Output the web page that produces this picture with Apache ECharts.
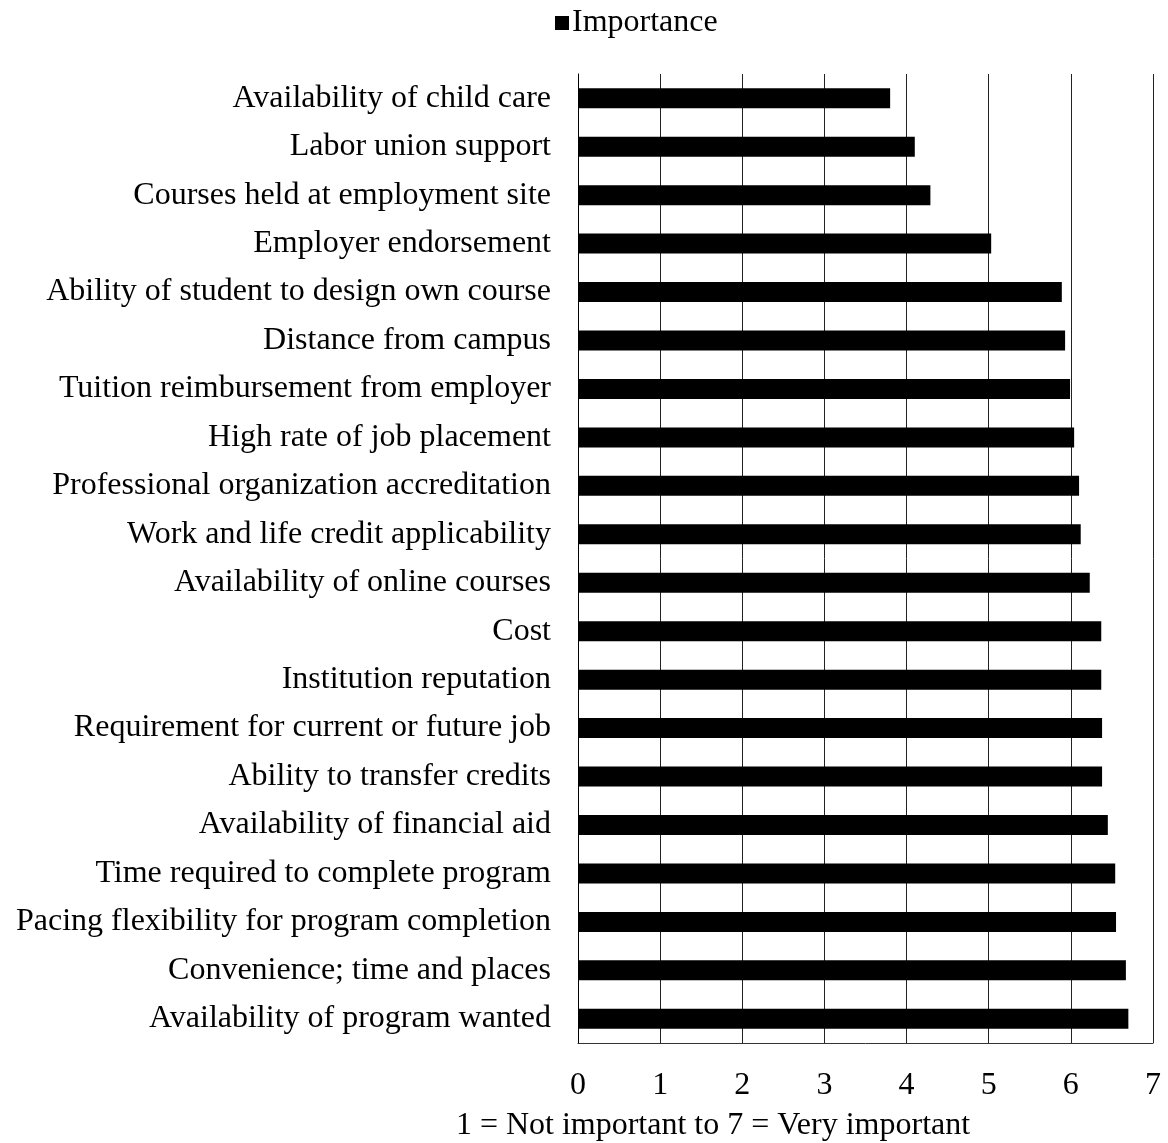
<!DOCTYPE html>
<html>
<head>
<meta charset="utf-8">
<script src="https://cdn.jsdelivr.net/npm/echarts@6/dist/echarts.min.js"></script>
<style>
html,body{margin:0;padding:0;background:#fff;}
#chart{width:1168px;height:1143px;}
</style>
</head>
<body>
<div id="chart"></div>
<script>
const categories = [
  "Availability of child care",
  "Labor union support",
  "Courses held at employment site",
  "Employer endorsement",
  "Ability of student to design own course",
  "Distance from campus",
  "Tuition reimbursement from employer",
  "High rate of job placement",
  "Professional organization accreditation",
  "Work and life credit applicability",
  "Availability of online courses",
  "Cost",
  "Institution reputation",
  "Requirement for current or future job",
  "Ability to transfer credits",
  "Availability of financial aid",
  "Time required to complete program",
  "Pacing flexibility for program completion",
  "Convenience; time and places",
  "Availability of program wanted"
];
const importance = [3.80, 4.10, 4.29, 5.03, 5.89, 5.93, 5.99, 6.04, 6.10, 6.12, 6.23, 6.37, 6.37, 6.38, 6.38, 6.45, 6.54, 6.55, 6.67, 6.70];
const seriesName = "Importance";
const axisTitle = "1 = Not important to 7 = Very important";

const FONT = "'Liberation Serif', 'Times New Roman', serif";
const chart = echarts.init(document.getElementById('chart'), null, {renderer: 'canvas'});
chart.setOption({
  animation: false,
  backgroundColor: '#fff',
  textStyle: {fontFamily: FONT, color: '#000'},
  legend: {
    data: [seriesName],
    left: 550,
    top: 2,
    itemWidth: 14,
    itemHeight: 14,
    itemGap: 6,
    icon: 'rect',
    textStyle: {fontFamily: FONT, fontSize: 32, color: '#000', padding: [0,0,0,-2]}
  },
  grid: {left: 578, right: 15, top: 74, bottom: 100, containLabel: false},
  xAxis: {
    type: 'value',
    min: 0, max: 7, interval: 1,
    axisLine: {show: true, lineStyle: {color: '#333', width: 1}},
    axisTick: {show: false},
    axisLabel: {fontFamily: FONT, fontSize: 32, color: '#000', margin: 27},
    splitLine: {show: true, lineStyle: {color: '#222', width: 1}}
  },
  yAxis: {
    type: 'category',
    inverse: true,
    data: categories,
    axisLine: {show: true, lineStyle: {color: '#000', width: 1}},
    axisTick: {show: false},
    axisLabel: {fontFamily: FONT, fontSize: 32, color: '#000', margin: 27, padding: [4,0,0,0]},
    splitLine: {show: false}
  },
  graphic: [{
    type: 'text',
    x: 713,
    y: 1126,
    style: {text: axisTitle, font: "32px " + FONT, fill: '#000', textAlign: 'center', textVerticalAlign: 'middle'}
  }],
  series: [{
    name: seriesName,
    type: 'bar',
    data: importance,
    barWidth: 20,
    itemStyle: {color: '#000'}
  }]
});
</script>
</body>
</html>
